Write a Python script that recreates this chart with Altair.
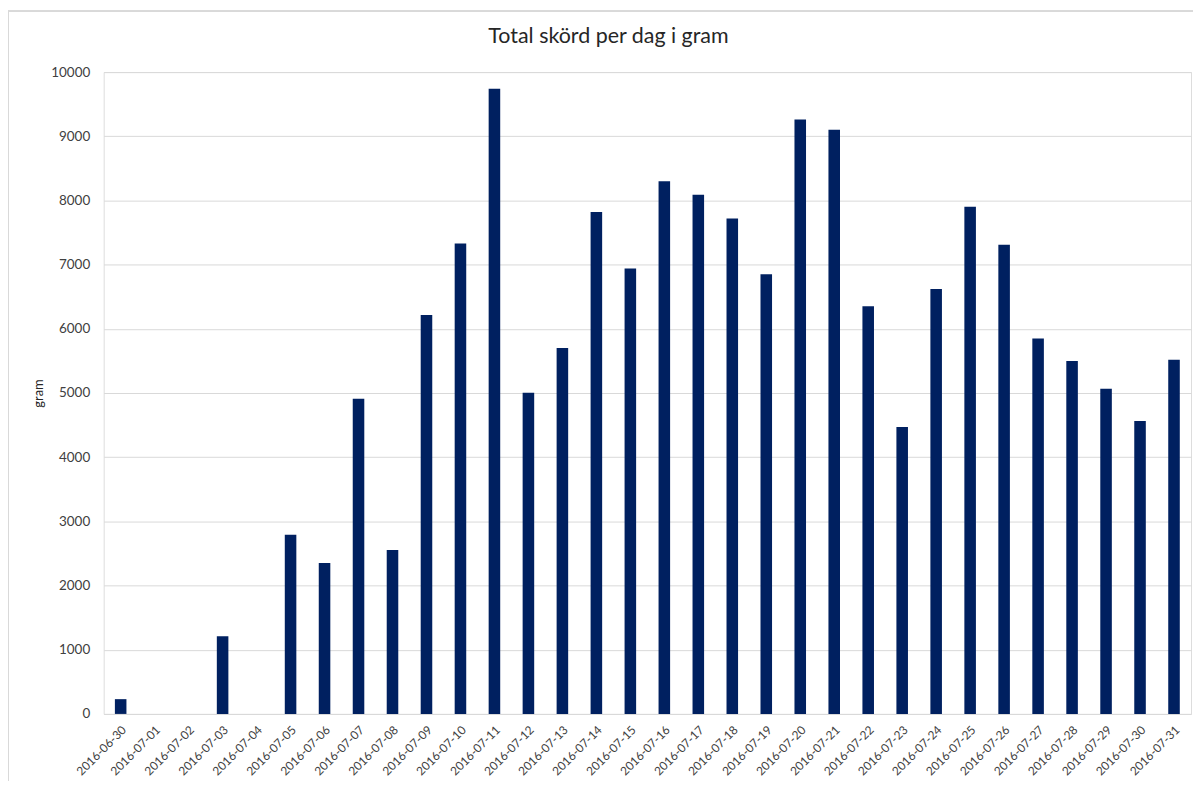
import altair as alt
import pandas as pd

dates = [
    "2016-06-30", "2016-07-01", "2016-07-02", "2016-07-03", "2016-07-04",
    "2016-07-05", "2016-07-06", "2016-07-07", "2016-07-08", "2016-07-09",
    "2016-07-10", "2016-07-11", "2016-07-12", "2016-07-13", "2016-07-14",
    "2016-07-15", "2016-07-16", "2016-07-17", "2016-07-18", "2016-07-19",
    "2016-07-20", "2016-07-21", "2016-07-22", "2016-07-23", "2016-07-24",
    "2016-07-25", "2016-07-26", "2016-07-27", "2016-07-28", "2016-07-29",
    "2016-07-30", "2016-07-31",
]
grams = [
    230, 0, 0, 1210, 0,
    2790, 2350, 4910, 2555, 6215,
    7330, 9740, 5005, 5700, 7820,
    6940, 8300, 8090, 7720, 6850,
    9260, 9100, 6350, 4470, 6620,
    7900, 7310, 5850, 5500, 5065,
    4565, 5520,
]
y_ticks = [0, 1000, 2000, 3000, 4000, 5000, 6000, 7000, 8000, 9000, 10000]

df = pd.DataFrame({"datum": dates, "gram": grams})

W, H = 1091, 644
FONT = "Lato"

bars = alt.Chart(df).mark_bar(color="#002060").encode(
    x=alt.X(
        "datum:N",
        sort=dates,
        title=None,
        scale=alt.Scale(paddingInner=0.66, paddingOuter=0.33),
        axis=alt.Axis(
            labelAngle=-45,
            labelFont=FONT,
            labelFontSize=12,
            labelColor="#404040",
            labelPadding=10,
            ticks=False,
            domain=False,
            grid=False,
        ),
    ),
    y=alt.Y(
        "gram:Q",
        title="gram",
        scale=alt.Scale(domain=[0, 10000], nice=False),
        axis=alt.Axis(
            values=y_ticks,
            format="d",
            labelFont=FONT,
            labelFontSize=13.5,
            labelColor="#404040",
            labelPadding=14,
            ticks=False,
            domain=False,
            grid=True,
            gridColor="#d9d9d9",
            gridWidth=1,
            titleFont=FONT,
            titleFontSize=13,
            titleFontWeight="normal",
            titleColor="#262626",
            titleAngle=-90,
            titleX=-58,
            titleY=H / 2,
            titleAlign="center",
            titleBaseline="bottom",
        ),
    ),
)

frame_top = alt.Chart(df).mark_rule(color="#d9d9d9", strokeWidth=1).encode(
    x=alt.value(-96), x2=alt.value(W + 20), y=alt.value(-61)
)
frame_left = alt.Chart(df).mark_rule(color="#d9d9d9", strokeWidth=1).encode(
    x=alt.value(-96), y=alt.value(-61), y2=alt.value(H + 80)
)

chart = (
    alt.layer(frame_top, frame_left, bars)
    .properties(
        width=W,
        height=H,
        title=alt.TitleParams(
            "Total skörd per dag i gram",
            font=FONT,
            fontSize=21.5,
            fontWeight="normal",
            color="#262626",
            anchor="middle",
            frame="group",
            baseline="alphabetic",
            dx=-39,
            dy=54,
            offset=0,
        ),
        autosize=alt.AutoSizeParams(type="none"),
        padding={"left": 96, "top": 63, "right": 2, "bottom": 66},
    )
    .configure_view(stroke=None)
    .configure(background="white")
)

chart.save("out.html", embed_options={"renderer": "svg", "actions": False})
